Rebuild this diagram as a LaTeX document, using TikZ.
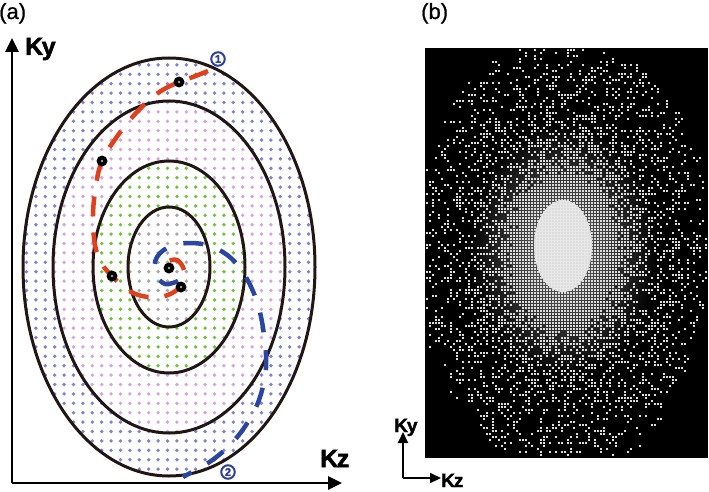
\documentclass[tikz,border=0pt]{standalone}
\usepackage{fontspec}
\setmainfont{Liberation Sans}
\newfontfamily\heavyfont{Liberation Sans Bold}[FakeBold=2]
\newfontfamily\labfont{Liberation Sans}[FakeBold=0.8]
\usetikzlibrary{arrows.meta}
\definecolor{ellc}{HTML}{201613}
\definecolor{dotblue}{HTML}{8080D4}
\definecolor{dotpink}{HTML}{D4A6DD}
\definecolor{dotgreen}{HTML}{72C23E}
\definecolor{dotgray}{HTML}{A8A8A8}
\definecolor{pathred}{HTML}{E0401C}
\definecolor{pathblue}{HTML}{2A46A0}
\definecolor{numblue}{HTML}{2B3E9C}
\definecolor{kdot}{HTML}{DDDDDD}
\definecolor{blobc}{HTML}{E8E8E8}
\begin{document}
\begin{tikzpicture}[x=1pt,y=-1pt,
  ell/.style={draw=ellc,line width=3pt},
  reddash/.style={draw=pathred,line width=4.5pt,dash pattern=on 20pt off 16pt},
  bluedash/.style={draw=pathblue,line width=4.5pt,dash pattern=on 20pt off 18pt},
  marker/.style={circle,fill=black,minimum size=11pt,inner sep=0pt,
    path picture={\fill[gray!70] (path picture bounding box.center) circle (1.3pt);}},
  numlabel/.style={circle,draw=numblue,line width=2pt,text=numblue,minimum size=13.5pt,inner sep=0pt,font=\heavyfont\fontsize{11}{11}\selectfont},
  axisline/.style={line width=2.6pt,draw=black},
  bigtip/.style={-{Triangle[length=14pt,width=13pt]}},
  smalltip/.style={-{Triangle[length=11pt,width=10pt]}},
  panellabel/.style={anchor=base west,inner sep=0pt,font=\labfont\fontsize{22}{22}\selectfont},
  axlabel/.style={anchor=base west,inner sep=0pt,font=\heavyfont\fontsize{25}{25}\selectfont},
  smallaxlabel/.style={anchor=base west,inner sep=0pt,font=\heavyfont\fontsize{19}{19}\selectfont}
]
\useasboundingbox (0,0) rectangle (709,492);

% ---------- panel (a): dot grid ----------
\foreach \i in {-16,...,16}{
  \foreach \j in {-23,...,22}{
    \pgfmathsetmacro\xx{167.5+9.4*\i}
    \pgfmathsetmacro\yy{271.7+9.4*\j}
    \pgfmathsetmacro\u{((\xx-169)/10)^2}
    \pgfmathsetmacro\v{((\yy-267)/10)^2}
    \pgfmathtruncatemacro\k{(\u/16.81+\v/36<1)+(\u/57.76+\v/112.36<1)+(\u/134.56+\v/275.56<1)+(\u/213.16+\v/436.81<1)}
    \ifcase\k\relax
    \or\fill[dotblue] (\xx,\yy) circle (1.9pt);
    \or\fill[dotpink] (\xx,\yy) circle (1.9pt);
    \or\fill[dotgreen] (\xx,\yy) circle (1.9pt);
    \or\fill[dotgray] (\xx,\yy) circle (1.9pt);
    \fi
  }
}

% ellipses
\draw[ell] (169,267) ellipse [x radius=146,y radius=209];
\draw[ell] (169,267) ellipse [x radius=116,y radius=166];
\draw[ell] (169,267) ellipse [x radius=76,y radius=106];
\draw[ell] (169,267) ellipse [x radius=41,y radius=60];

% trajectories
\draw[reddash] plot[smooth,tension=0.6] coordinates {(208,71) (193,77) (179,82) (158,93) (136,113) (116,138) (102,161) (96,185) (93,215) (95,245) (102,264) (112,276) (126,289) (142,296) (160,297) (174,292) (182,283) (184,270) (177,260) (167,262) (164,268)};
\draw[bluedash] plot[smooth,tension=0.6] coordinates {(178,281) (165,284) (155,273) (157,257) (171,246) (192,243) (213,247) (232,259) (247,279) (258,305) (264,335) (266,368) (259,400) (246,425) (230,445) (211,461) (192,472) (183,477)};

% markers
\node[marker] (m1) at (179,82) {};
\node[marker] (m2) at (102,161) {};
\node[marker] (m3) at (112,276) {};
\node[marker] (m4) at (169,268) {};
\node[marker] (m5) at (181,287) {};

\node[numlabel] (n1) at (218,59) {1};
\node[numlabel] (n2) at (228,472) {2};

% axes (a)
\coordinate (Oa) at (12,483);
\coordinate (Ya) at (12,38);
\coordinate (Xa) at (342,483);
\draw[axisline,bigtip] (Oa) -- (Ya);
\draw[axisline,bigtip] (Oa) -- (Xa);
\node[axlabel] (kya) at (25,55) {K\kern-1.5pt y};
\node[axlabel] (kza) at (320,467) {K\kern-1.5pt z};
\node[panellabel] (la) at (-1,19) {(a)};

% ---------- panel (b) ----------
\begin{scope}
\clip (425,48) rectangle (708,458);
\fill[black] (425,48) rectangle (708,458);
\shade[inner color=black!55,outer color=black] (563,250) ellipse [x radius=95,y radius=130];
\fill[blobc] (563,246) ellipse [x radius=29,y radius=46];
\pgfmathsetseed{4242}
\foreach \i in {0,...,93}{
  \pgfmathsetmacro\xx{427+3*\i}
  \pgfmathsetmacro\dx{((\xx-565)/140)^2}
  \foreach \j in {0,...,135}{
    \pgfmathsetmacro\yy{50+3*\j}
    \pgfmathsetmacro\rr{\dx+((\yy-252)/205)^2}
    \pgfmathparse{(\rr<(1+0.2*rnd))*((\rr*(rnd-0.08))<0.12)}
    \ifdim\pgfmathresult pt>0.5pt \fill[kdot] (\xx-1,\yy-1) rectangle ++(2,2);\fi
  }
}
\end{scope}
\node[panellabel] (lb) at (421,19) {(b)};

\coordinate (Ob) at (403,478);
\coordinate (Yb) at (403,432);
\coordinate (Xb) at (441,478);
\draw[line width=2pt,smalltip] (Ob) -- (Yb);
\draw[line width=2pt,smalltip] (Ob) -- (Xb);
\node[smallaxlabel] (kyb) at (394,432) {K\kern-1pt y};
\node[smallaxlabel] (kzb) at (441,487) {K\kern-1pt z};
\end{tikzpicture}
\end{document}
